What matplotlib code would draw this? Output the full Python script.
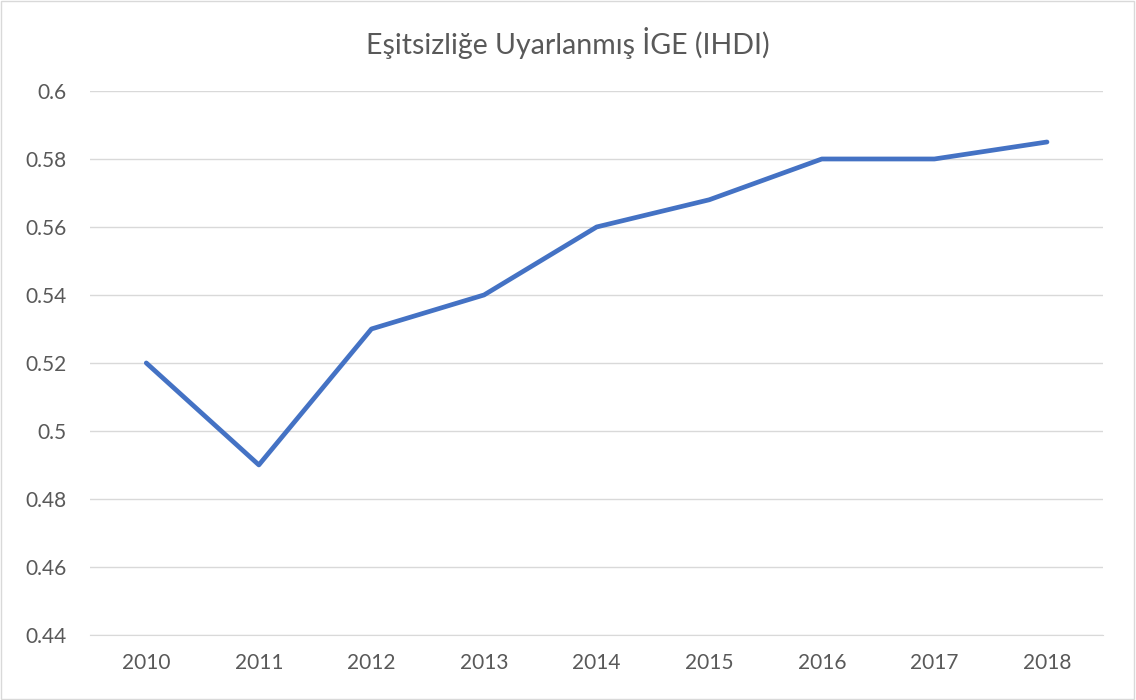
import matplotlib
matplotlib.use("Agg")
import matplotlib.pyplot as plt
from matplotlib.patches import Rectangle
from matplotlib.ticker import FuncFormatter

years = ["2010", "2011", "2012", "2013", "2014", "2015", "2016", "2017", "2018"]
ihdi = [0.52, 0.49, 0.53, 0.54, 0.56, 0.568, 0.58, 0.58, 0.585]
yticks = [0.44, 0.46, 0.48, 0.5, 0.52, 0.54, 0.56, 0.58, 0.6]

plt.rcParams['font.family'] = ['Lato', 'DejaVu Sans']

fig = plt.figure(figsize=(11.36, 7.0), dpi=100)
ax = fig.add_axes([0.0792, 0.093, 0.892, 0.777])

x = list(range(len(years)))
ax.plot(x, ihdi, color='#4472C4', linewidth=3.4, solid_capstyle='round', zorder=3)

ax.set_xlim(-0.5, len(years) - 0.5)
ax.set_ylim(0.44, 0.6)
ax.set_yticks(yticks)
ax.yaxis.set_major_formatter(FuncFormatter(lambda v, p: '%g' % round(v, 3)))
ax.set_xticks(x)
ax.set_xticklabels(years)
ax.grid(axis='y', color='#D9D9D9', linewidth=1)
ax.set_axisbelow(True)
for s in ['top', 'right', 'left']:
    ax.spines[s].set_visible(False)
ax.spines['bottom'].set_color('#D9D9D9')
ax.tick_params(axis='both', length=0, colors='#595959', labelsize=15)
ax.tick_params(axis='y', pad=17)
ax.tick_params(axis='x', pad=13)

fig.text(0.5, 0.938, 'Eşitsizliğe Uyarlanmış İGE (IHDI)', ha='center', va='center',
         fontsize=20.5, color='#595959')

fig.patches.append(Rectangle((0.001, 0.002), 0.997, 0.996, transform=fig.transFigure,
                             fill=False, edgecolor='#D9D9D9', linewidth=1))

fig.savefig('out.png', dpi=100)
